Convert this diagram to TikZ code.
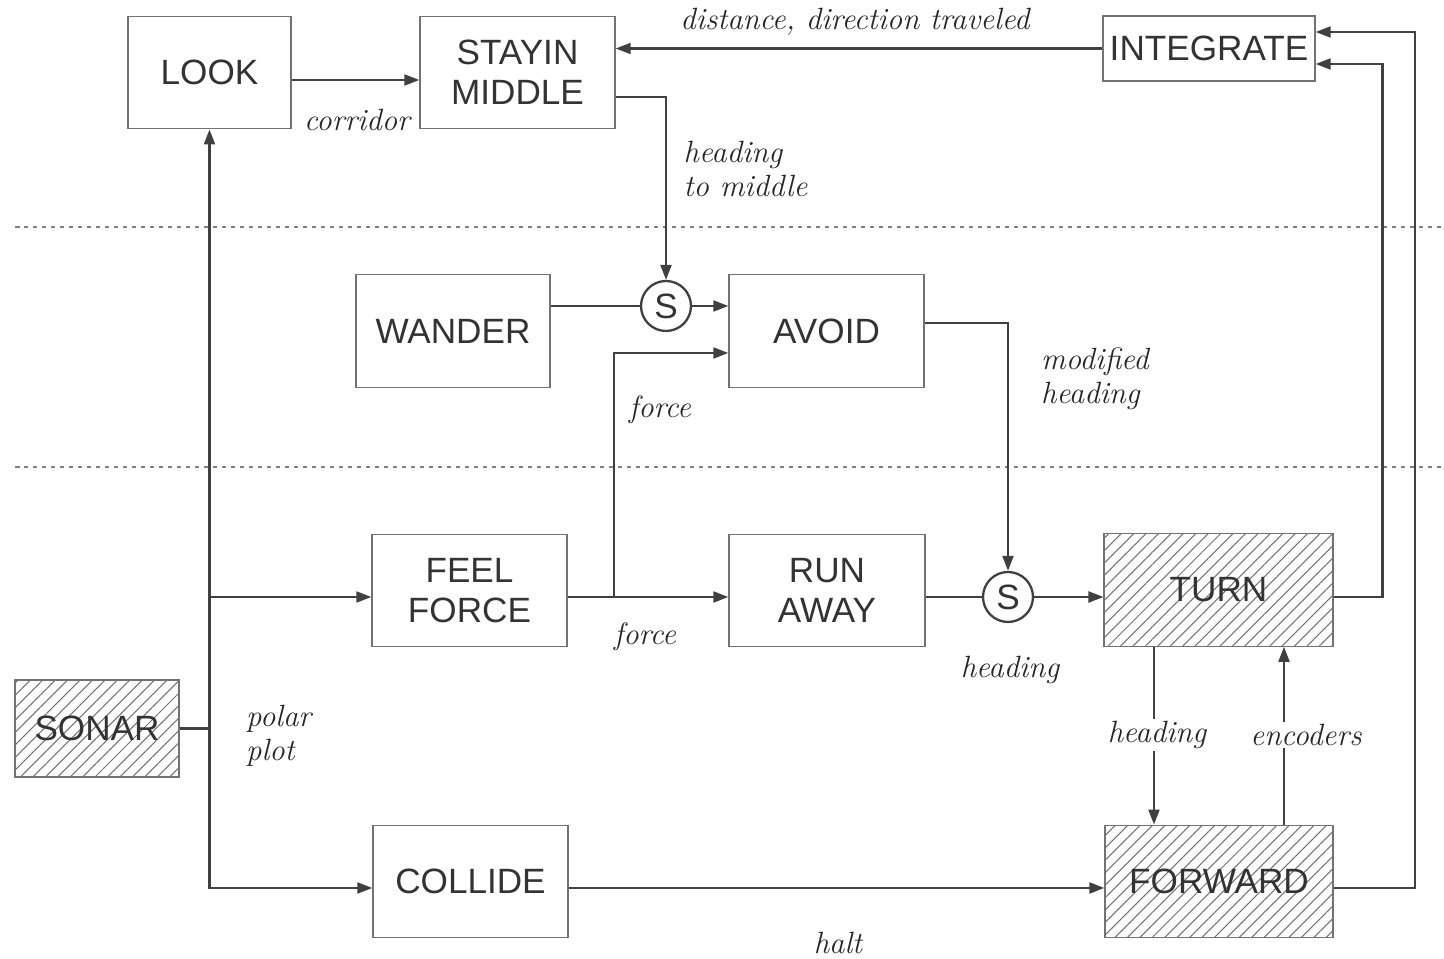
\documentclass[tikz,border=0pt]{standalone}
\usepackage{fontspec}
\setsansfont{Liberation Sans}
\usetikzlibrary{arrows.meta,positioning,calc,patterns.meta}

\begin{document}
\begin{tikzpicture}[
    block/.style={draw=black!55, line width=0.8pt, rectangle, minimum width=3.9cm, minimum height=2.25cm, align=center, font=\sffamily\fontsize{20}{23}\selectfont, text=black!80},
    hatched/.style={block, pattern={Lines[angle=45,distance=5pt,line width=0.6pt]}, pattern color=black!55},
    sumnode/.style={draw=black!75, line width=1.3pt, circle, minimum size=1cm, inner sep=0pt, fill=white, font=\sffamily\fontsize{20}{23}\selectfont, text=black!80},
    lbl/.style={font=\fontsize{17.5}{19.5}\selectfont\itshape, text=black!85, align=left},
    wire/.style={draw=black!75, line width=1.2pt},
    arr/.style={wire, -{Triangle[length=0.3cm,width=0.22cm]}},
    layer/.style={draw=black!50, line width=0.6pt, dash pattern=on 0.09cm off 0.09cm}
]
    \useasboundingbox (0,0) rectangle (28.88,-19.18);

    \draw[layer] (0.3,-4.54) -- (28.88,-4.54);
    \draw[layer] (0.3,-9.34) -- (28.88,-9.34);

    \node[block, minimum width=3.26cm] (look) at (4.19,-1.45) {LOOK};
    \node[block] (stayin) at (10.35,-1.45) {STAYIN\\MIDDLE};
    \node[block, minimum width=4.24cm, minimum height=1.3cm] (integrate) at (24.18,-0.97) {INTEGRATE};

    \node[block, minimum width=3.88cm] (wander) at (9.06,-6.62) {WANDER};
    \node[block] (avoid) at (16.53,-6.62) {AVOID};
    \node[sumnode] (s1) at (13.32,-6.12) {S};

    \node[block] (feel) at (9.39,-11.81) {FEEL\\FORCE};
    \node[block, minimum width=3.92cm] (runaway) at (16.54,-11.81) {RUN\\AWAY};
    \node[sumnode] (s2) at (20.16,-11.94) {S};
    \node[hatched, minimum width=4.58cm] (turn) at (24.37,-11.80) {TURN};

    \node[hatched, minimum width=3.28cm, minimum height=1.94cm] (sonar) at (1.94,-14.57) {SONAR};
    \node[block] (collide) at (9.41,-17.63) {COLLIDE};
    \node[hatched, minimum width=4.56cm] (forward) at (24.38,-17.63) {FORWARD};

    \draw[arr] ([yshift=-0.15cm]look.east) -- ([yshift=-0.15cm]stayin.west);
    \draw[arr] (integrate.west) -- (integrate.west -| stayin.east);
    \draw[arr] ([yshift=-0.49cm]stayin.east) -| (s1.north);
    \draw[wire] (s1.west -| wander.east) -- (s1.west);
    \draw[arr] (s1.east) -- (s1.east -| avoid.west);

    \draw[arr] (feel.east |- s2) -- (runaway.west |- s2);
    \coordinate (fork) at (12.28,-11.94);
    \draw[arr] (fork) |- ([yshift=-0.44cm]avoid.west);
    \draw[arr] ([yshift=0.16cm]avoid.east) -| (s2.north);
    \draw[wire] (runaway.east |- s2) -- (s2.west);
    \draw[arr] (s2.east) -- (s2 -| turn.west);

    \draw[arr] (turn.east |- s2) -- ++(0.98,0) |- ([yshift=-0.31cm]integrate.east);
    \draw[arr] ([yshift=-0.13cm]forward.east) -- ++(1.62,0) |- ([yshift=0.33cm]integrate.east);
    \draw[arr] ([xshift=-1.29cm]turn.south) -- ([xshift=-1.29cm]turn.south |- forward.north);
    \draw[arr] ([xshift=1.31cm]turn.south |- forward.north) -- ([xshift=1.31cm]turn.south);

    \draw[wire] (sonar.east) -- (sonar.east -| look.south);
    \draw[wire, {Triangle[length=0.3cm,width=0.22cm]}-{Triangle[length=0.3cm,width=0.22cm]}] (look.south) |- ([yshift=-0.13cm]collide.west);
    \draw[arr] (look.south |- s2) -- (feel.west |- s2);
    \draw[arr] ([yshift=-0.13cm]collide.east) -- ([yshift=-0.13cm]forward.west);

    \node[lbl] (ldist) at (17.10,-0.44) {distance, direction traveled};
    \node[lbl] (lcorr) at (7.14,-2.40) {corridor};
    \node[lbl, anchor=west] (lmid) at (13.55,-3.38) {heading\\to middle};
    \node[lbl] (lforce1) at (13.20,-8.20) {force};
    \node[lbl, anchor=west] (lmod) at (20.70,-7.58) {modified\\heading};
    \node[lbl] (lforce2) at (12.90,-12.74) {force};
    \node[lbl] (lhead) at (20.20,-13.40) {heading};
    \node[lbl, anchor=west] (lpolar) at (4.80,-14.72) {polar\\plot};
    \node[lbl] (lhalt) at (16.76,-18.86) {halt};
    \node[lbl, fill=white, inner sep=1pt] (lhead2) at (23.14,-14.70) {heading};
    \node[lbl, fill=white, inner sep=1pt] (lenc) at (26.12,-14.70) {encoders};
\end{tikzpicture}
\end{document}
